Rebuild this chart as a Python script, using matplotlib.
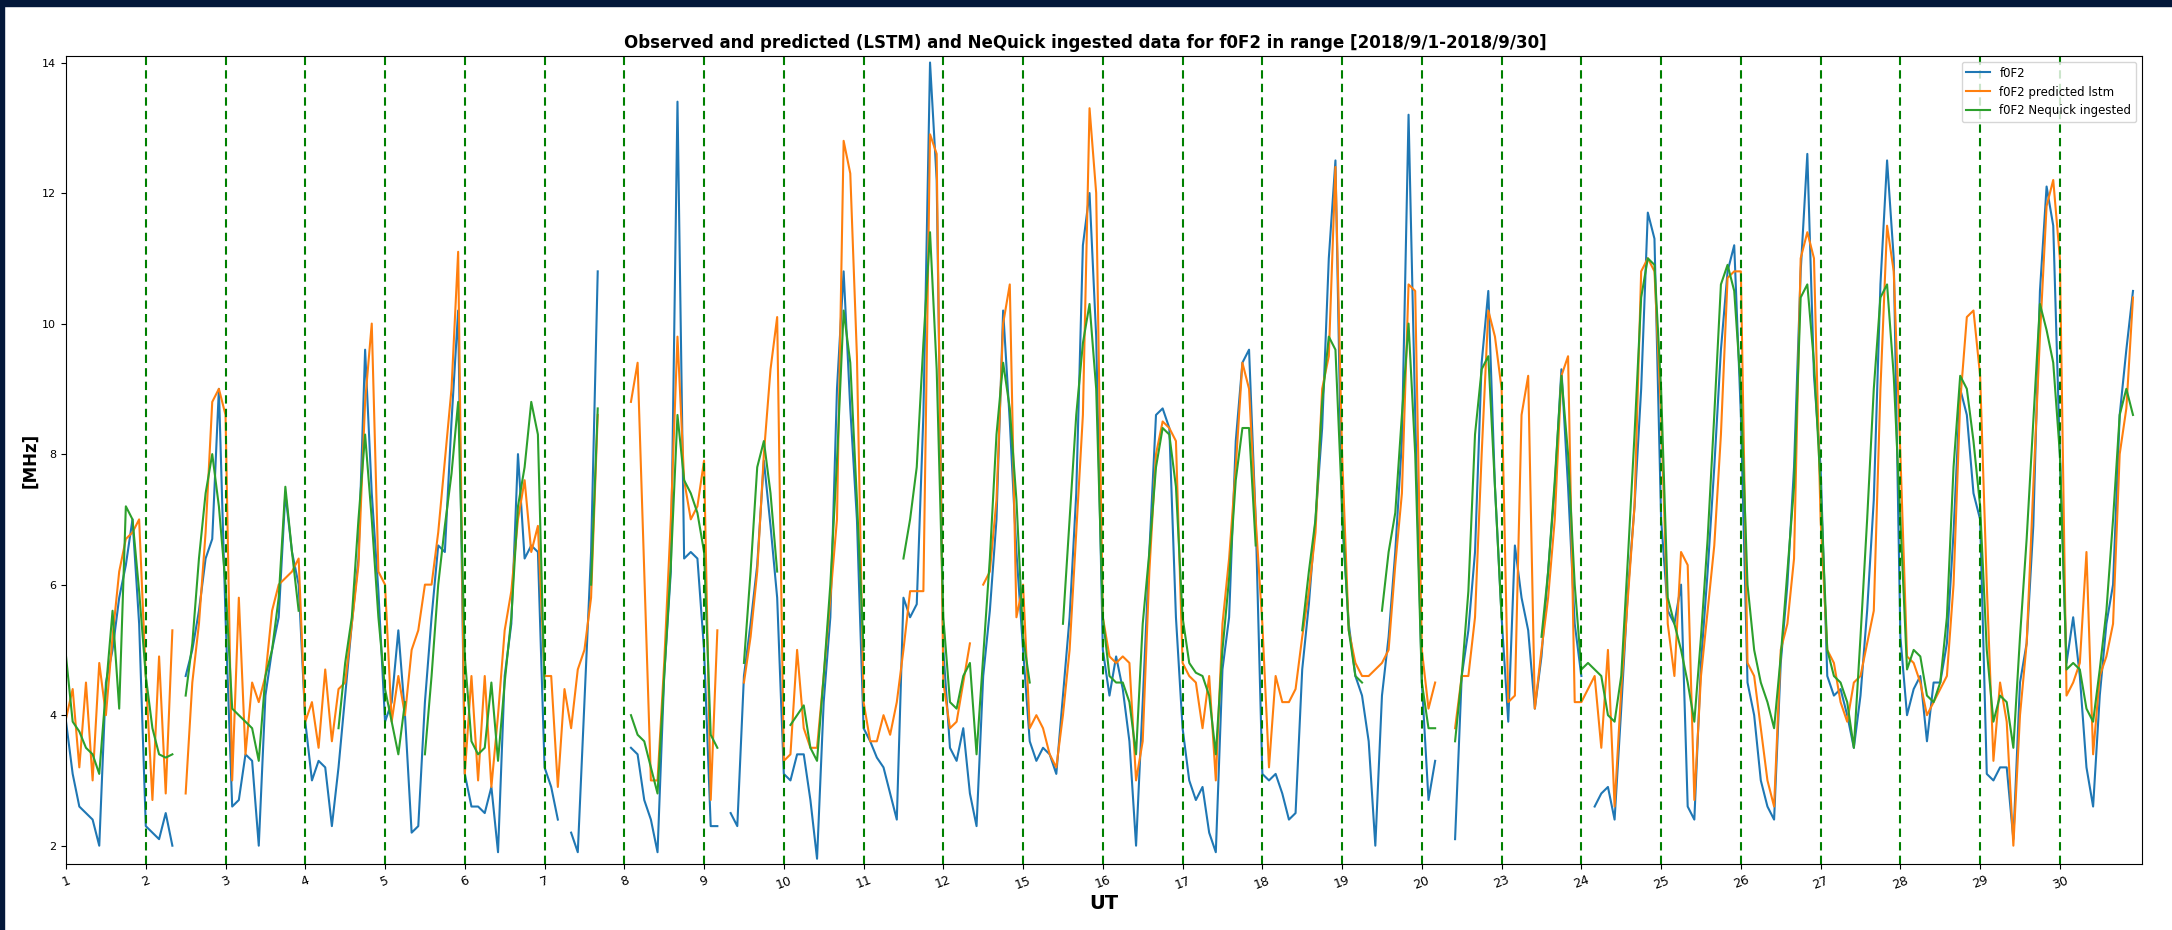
import numpy as np
import matplotlib
matplotlib.use("Agg")
import matplotlib.pyplot as plt
from matplotlib.patches import Rectangle

# days present in the record (13, 14, 21, 22 are missing)
day_labels = [1, 2, 3, 4, 5, 6, 7, 8, 9, 10, 11, 12,
              15, 16, 17, 18, 19, 20,
              23, 24, 25, 26, 27, 28, 29, 30]
# samples every 2 h (UT 0, 2, ..., 22) for each day above
hours = [0, 2, 4, 6, 8, 10, 12, 14, 16, 18, 20, 22]
nan = np.nan

f0f2_obs = [
    3.9, 3.1, 2.6, 2.5, 2.4, 2.0, 4.5, 5.0, 5.8, 6.3, 7.0, 5.4,
    2.3, 2.2, 2.1, 2.5, 2.0, nan, 4.6, 5.0, 5.6, 6.4, 6.7, 9.0,
    5.5, 2.6, 2.7, 3.4, 3.3, 2.0, 4.3, 5.0, 5.5, 7.4, 6.5, 6.0,
    3.9, 3.0, 3.3, 3.2, 2.3, 3.2, 4.3, 5.4, 6.4, 9.6, 7.4, 5.9,
    3.9, 4.2, 5.3, 4.0, 2.2, 2.3, 4.2, 5.5, 6.6, 6.5, 8.5, 10.2,
    3.1, 2.6, 2.6, 2.5, 2.9, 1.9, 4.6, 5.4, 8.0, 6.4, 6.6, 6.5,
    3.2, 2.9, 2.4, nan, 2.2, 1.9, 4.2, 6.5, 10.8, nan, nan, nan,
    nan, 3.5, 3.4, 2.7, 2.4, 1.9, 4.6, 6.2, 13.4, 6.4, 6.5, 6.4,
    5.0, 2.3, 2.3, nan, 2.5, 2.3, 4.6, 5.4, 6.3, 7.9, 6.9, 5.8,
    3.1, 3.0, 3.4, 3.4, 2.7, 1.8, 4.2, 5.5, 9.0, 10.8, 8.7, 7.0,
    3.8, 3.6, 3.35, 3.2, 2.8, 2.4, 5.8, 5.5, 5.7, 8.6, 14.0, 12.2,
    5.0, 3.5, 3.3, 3.8, 2.8, 2.3, 4.6, 5.6, 7.0, 10.2, 8.5, 6.5,
    5.0, 3.6, 3.3, 3.5, 3.4, 3.1, 4.3, 5.5, 7.4, 11.2, 12.0, 9.8,
    5.0, 4.3, 4.9, 4.4, 3.6, 2.0, 4.2, 6.5, 8.6, 8.7, 8.4, 5.5,
    3.8, 3.0, 2.7, 2.9, 2.2, 1.9, 4.7, 5.5, 8.2, 9.4, 9.6, 7.0,
    3.1, 3.0, 3.1, 2.8, 2.4, 2.5, 4.7, 5.7, 7.0, 8.4, 11.0, 12.5,
    7.0, 5.4, 4.6, 4.3, 3.6, 2.0, 4.3, 5.2, 6.5, 8.2, 13.2, 8.6,
    4.5, 2.7, 3.3, nan, nan, 2.1, 4.6, 5.3, 6.5, 9.4, 10.5, 7.5,
    5.5, 3.9, 6.6, 5.8, 5.3, 4.1, 4.9, 6.2, 7.5, 9.3, 7.5, 5.4,
    4.6, nan, 2.6, 2.8, 2.9, 2.4, 4.1, 5.9, 7.2, 9.0, 11.7, 11.3,
    7.0, 5.6, 5.4, 6.0, 2.6, 2.4, 4.8, 6.2, 7.8, 9.6, 10.8, 11.2,
    8.6, 4.5, 4.0, 3.0, 2.6, 2.4, 4.8, 6.0, 7.8, 10.8, 12.6, 9.2,
    7.8, 4.6, 4.3, 4.4, 4.0, 3.5, 4.3, 5.6, 7.3, 10.6, 12.5, 11.0,
    5.2, 4.0, 4.4, 4.6, 3.6, 4.5, 4.5, 5.1, 6.8, 9.0, 8.6, 7.4,
    7.0, 3.1, 3.0, 3.2, 3.2, 2.1, 4.5, 5.1, 6.9, 10.5, 12.1, 11.5,
    8.0, 4.8, 5.5, 4.6, 3.2, 2.6, 4.3, 5.4, 6.0, 8.6, 9.6, 10.5,
]

f0f2_lstm = [
    3.95, 4.4, 3.2, 4.5, 3.0, 4.8, 4.0, 5.2, 6.2, 6.7, 6.8, 7.0,
    4.6, 2.7, 4.9, 2.8, 5.3, nan, 2.8, 4.5, 5.4, 6.8, 8.8, 9.0,
    8.6, 3.0, 5.8, 3.4, 4.5, 4.2, 4.6, 5.6, 6.0, 6.1, 6.2, 6.4,
    3.9, 4.2, 3.5, 4.7, 3.6, 4.4, 4.5, 5.4, 6.3, 8.8, 10.0, 6.2,
    6.0, 3.9, 4.6, 4.0, 5.0, 5.3, 6.0, 6.0, 6.8, 7.9, 9.0, 11.1,
    3.1, 4.6, 3.0, 4.6, 2.9, 4.0, 5.3, 5.9, 7.0, 7.6, 6.5, 6.9,
    4.6, 4.6, 2.9, 4.4, 3.8, 4.7, 5.0, 5.8, 8.6, nan, nan, nan,
    nan, 8.8, 9.4, 6.2, 3.0, 3.0, 4.8, 7.0, 9.8, 7.6, 7.0, 7.2,
    7.9, 2.7, 5.3, nan, 3.9, nan, 4.5, 5.2, 6.2, 8.0, 9.3, 10.1,
    3.3, 3.4, 5.0, 3.8, 3.5, 3.5, 4.6, 5.8, 7.0, 12.8, 12.3, 9.5,
    4.2, 3.6, 3.6, 4.0, 3.7, 4.2, 5.0, 5.9, 5.9, 5.9, 12.9, 12.6,
    4.5, 3.8, 3.9, 4.5, 5.1, nan, 6.0, 6.2, 7.3, 10.0, 10.6, 5.5,
    6.0, 3.8, 4.0, 3.8, 3.4, 3.2, 4.0, 5.0, 6.8, 8.6, 13.3, 12.0,
    5.5, 4.9, 4.8, 4.9, 4.8, 3.0, 3.6, 6.2, 8.0, 8.5, 8.4, 8.2,
    4.8, 4.6, 4.5, 3.8, 4.6, 3.0, 5.4, 6.4, 7.8, 9.4, 9.0, 7.0,
    5.4, 3.2, 4.6, 4.2, 4.2, 4.4, 5.2, 5.9, 6.8, 9.0, 9.5, 12.4,
    8.0, 5.3, 4.8, 4.6, 4.6, 4.7, 4.8, 5.0, 6.3, 7.4, 10.6, 10.5,
    5.0, 4.1, 4.5, nan, nan, 3.8, 4.6, 4.6, 5.5, 8.0, 10.2, 9.8,
    9.0, 4.2, 4.3, 8.6, 9.2, 4.1, 5.0, 5.8, 7.0, 9.2, 9.5, 4.2,
    4.2, 4.4, 4.6, 3.5, 5.0, 2.6, 4.4, 5.8, 7.2, 10.8, 11.0, 10.8,
    8.6, 5.4, 4.6, 6.5, 6.3, 2.7, 4.6, 5.6, 6.6, 8.3, 10.7, 10.8,
    10.8, 4.8, 4.6, 3.8, 3.0, 2.6, 5.0, 5.4, 6.4, 11.0, 11.4, 11.0,
    7.0, 5.0, 4.8, 4.2, 3.9, 4.5, 4.6, 5.1, 5.6, 9.0, 11.5, 10.8,
    8.0, 4.9, 4.8, 4.5, 4.0, 4.2, 4.4, 4.6, 6.0, 8.8, 10.1, 10.2,
    9.2, 6.0, 3.3, 4.5, 3.9, 2.0, 4.0, 5.1, 7.5, 9.8, 11.8, 12.2,
    11.0, 4.3, 4.5, 4.8, 6.5, 3.4, 4.6, 4.9, 5.4, 8.0, 8.7, 10.4,
]

f0f2_nequick = [
    4.9, 3.9, 3.75, 3.5, 3.4, 3.1, 4.4, 5.6, 4.1, 7.2, 7.0, 5.9,
    4.6, 3.8, 3.4, 3.35, 3.4, nan, 4.3, 5.1, 6.4, 7.4, 8.0, 7.2,
    6.0, 4.1, 4.0, 3.9, 3.8, 3.3, 4.6, 5.0, 5.8, 7.5, 6.5, 5.6,
    nan, nan, nan, nan, nan, 3.8, 4.8, 5.5, 7.0, 8.3, 7.0, 5.5,
    4.4, 3.9, 3.4, 4.2, nan, nan, 3.4, 4.6, 6.0, 6.9, 7.7, 8.8,
    4.9, 3.6, 3.4, 3.5, 4.5, 3.3, 4.5, 5.5, 7.2, 7.8, 8.8, 8.3,
    4.4, nan, nan, nan, nan, nan, nan, 6.0, 8.7, nan, nan, nan,
    nan, 4.0, 3.7, 3.6, 3.2, 2.8, 4.6, 6.3, 8.6, 7.6, 7.4, 7.1,
    6.5, 3.7, 3.5, nan, 3.4, nan, 4.8, 6.2, 7.8, 8.2, 7.4, 6.2,
    nan, 3.85, 4.0, 4.15, 3.5, 3.3, 4.6, 6.0, 7.9, 10.2, 9.4, 7.3,
    5.0, nan, nan, nan, nan, nan, 6.4, 7.0, 7.8, 9.7, 11.4, 9.3,
    5.5, 4.2, 4.1, 4.6, 4.8, 3.4, 4.9, 6.4, 8.3, 9.4, 8.7, 7.3,
    5.2, 4.5, nan, nan, nan, nan, 5.4, 7.0, 8.6, 9.7, 10.3, 9.0,
    5.5, 4.6, 4.5, 4.5, 4.2, 3.4, 5.4, 6.5, 7.8, 8.4, 8.3, 7.5,
    5.5, 4.8, 4.65, 4.6, 4.3, 3.4, 5.0, 6.1, 7.6, 8.4, 8.4, 6.6,
    nan, nan, nan, nan, nan, nan, 5.3, 6.2, 7.0, 8.8, 9.8, 9.6,
    7.2, 5.3, 4.6, 4.5, nan, nan, 5.6, 6.5, 7.1, 8.6, 10.0, 8.0,
    4.5, 3.8, 3.8, nan, nan, 3.6, 4.6, 5.9, 8.3, 9.3, 9.5, 7.5,
    5.5, nan, nan, nan, nan, nan, 5.2, 6.2, 7.6, 9.2, 8.0, 6.0,
    4.7, 4.8, 4.7, 4.6, 4.0, 3.9, 4.6, 6.4, 8.3, 10.4, 11.0, 10.9,
    9.0, 5.8, 5.4, 5.0, 4.5, 3.9, 5.2, 6.7, 8.6, 10.6, 10.9, 10.5,
    9.0, 6.0, 5.0, 4.5, 4.2, 3.8, 4.9, 6.2, 7.5, 10.4, 10.6, 9.4,
    7.5, 5.0, 4.6, 4.5, 4.2, 3.5, 5.2, 7.0, 9.0, 10.4, 10.6, 9.2,
    7.0, 4.7, 5.0, 4.9, 4.3, 4.2, 4.5, 5.5, 7.8, 9.2, 9.0, 8.2,
    7.2, 5.0, 3.9, 4.3, 4.2, 3.5, 5.2, 6.7, 8.5, 10.3, 9.9, 9.4,
    8.0, 4.7, 4.8, 4.7, 4.1, 3.9, 4.7, 5.6, 7.0, 8.6, 9.0, 8.6,
]

# x = day index + fraction of day
n_days = len(day_labels)
x = np.array([d + h / 24 for d in range(n_days) for h in hours])

fig = plt.figure(figsize=(21.72, 9.30), dpi=100, facecolor="white")
ax = fig.add_axes([0.0304, 0.0710, 0.9558, 0.8688])

ax.plot(x, np.array(f0f2_obs, dtype=float), color="tab:blue", lw=1.5, label="f0F2")
ax.plot(x, np.array(f0f2_lstm, dtype=float), color="tab:orange", lw=1.5,
        label="f0F2 predicted lstm")
ax.plot(x, np.array(f0f2_nequick, dtype=float), color="tab:green", lw=1.5,
        label="f0F2 Nequick ingested")

# day separators
for d in range(1, n_days):
    ax.axvline(d, color="green", ls="--", lw=1.5, dashes=(4, 2.5))

ax.set_xlim(0, 26.03)
ax.set_ylim(1.72, 14.1)
ax.set_xticks(range(n_days))
ax.set_xticklabels([str(d) for d in day_labels], rotation=20, fontsize=9)
ax.tick_params(axis="y", labelsize=8)
ax.set_yticks([2, 4, 6, 8, 10, 12, 14])

ax.set_title("Observed and predicted (LSTM) and NeQuick ingested data for f0F2 in range "
             "[2018/9/1-2018/9/30]", fontsize=12, fontweight="bold", pad=6, x=0.491)
ax.set_ylabel("[MHz]", fontsize=12, fontweight="bold", labelpad=2)
ax.set_xlabel("UT", fontsize=14, fontweight="bold", labelpad=2)
ax.legend(loc="upper right", fontsize=8.5)

# dark slide frame around the picture (top and left edges)
navy = "#03183a"
fig.patches.append(Rectangle((0, 1 - 6 / 930), 1, 6 / 930, transform=fig.transFigure,
                             color=navy, zorder=10))
fig.patches.append(Rectangle((0, 0), 4 / 2172, 1, transform=fig.transFigure,
                             color=navy, zorder=10))

fig.savefig("out.png", dpi=100, facecolor="white")
